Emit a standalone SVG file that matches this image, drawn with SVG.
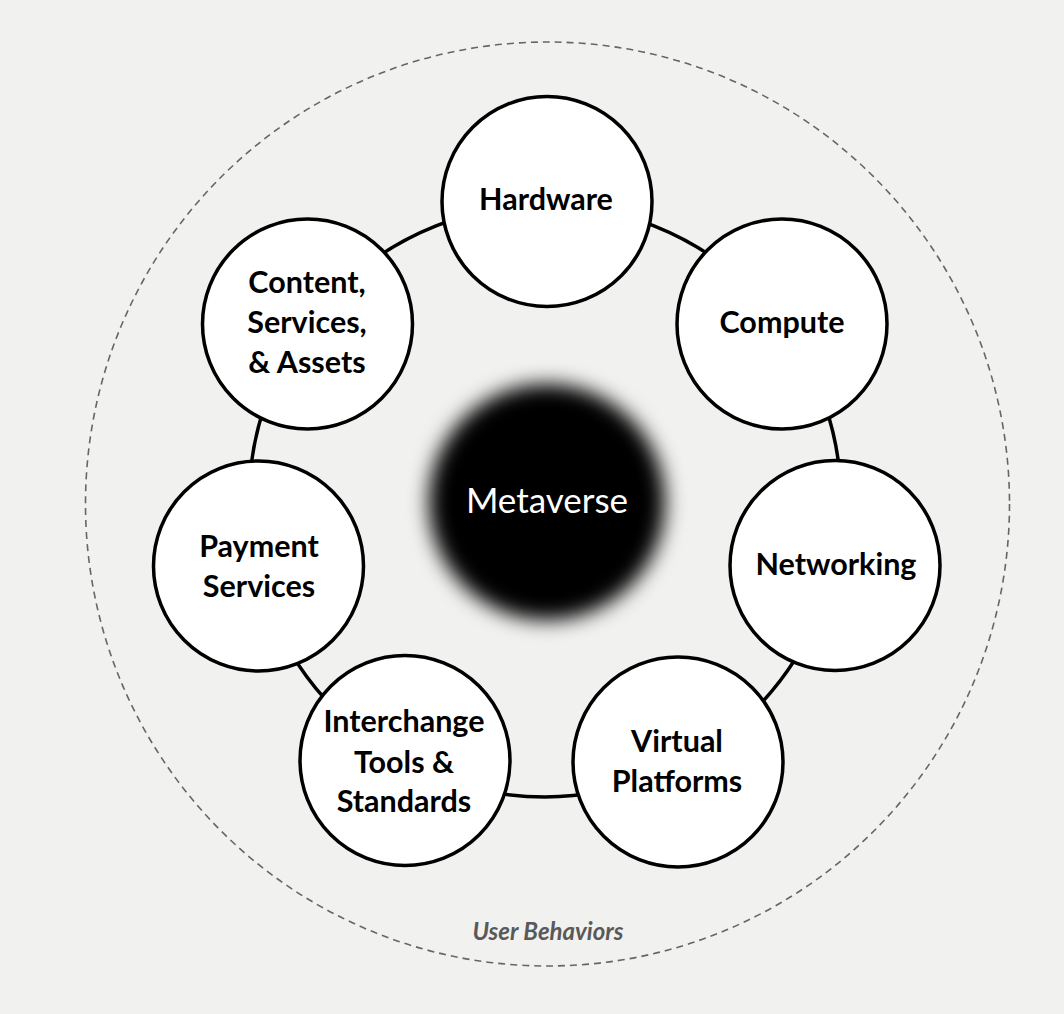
<svg xmlns="http://www.w3.org/2000/svg" width="1064" height="1014" viewBox="0 0 1064 1014">
  <defs>
    <filter id="blur" x="-40%" y="-40%" width="180%" height="180%">
      <feGaussianBlur stdDeviation="10"/>
    </filter>
    <style>
      .node { fill: #ffffff; stroke: #000000; stroke-width: 3.5; }
      .label { font-family: Lato, "Liberation Sans", sans-serif; font-weight: bold; font-size: 30.5px; fill: #000000; text-anchor: middle; }
      .ring { fill: none; stroke: #000000; stroke-width: 3.5; }
      .outer { fill: none; stroke: #666666; stroke-width: 1.6; stroke-dasharray: 7 5; }
    </style>
  </defs>
  <rect x="0" y="0" width="1064" height="1014" fill="#f1f1f0"/>

  <g id="user-behaviors">
    <circle class="outer" cx="547.5" cy="504" r="462"/>
    <text x="548" y="940" font-family="Lato, 'Liberation Sans', sans-serif" font-weight="bold" font-style="italic" font-size="24" fill="#595959" text-anchor="middle">User Behaviors</text>
  </g>

  <g id="connectors">
    <circle class="ring" cx="545" cy="501" r="296"/>
  </g>

  <g id="metaverse">
    <circle cx="547" cy="502" r="118" fill="#000000" filter="url(#blur)"/>
    <text x="547" y="513" font-family="Lato, 'Liberation Sans', sans-serif" font-size="35" fill="#ffffff" text-anchor="middle">Metaverse</text>
  </g>

  <g id="hardware">
    <circle class="node" cx="547" cy="201.5" r="105"/>
    <text class="label" x="546" y="210">Hardware</text>
  </g>
  <g id="compute">
    <circle class="node" cx="782" cy="324" r="105"/>
    <text class="label" x="782" y="333">Compute</text>
  </g>
  <g id="networking">
    <circle class="node" cx="835" cy="565.5" r="105"/>
    <text class="label" x="836" y="575">Networking</text>
  </g>
  <g id="virtual-platforms">
    <circle class="node" cx="678" cy="762" r="105"/>
    <text class="label" x="677" y="752">Virtual</text>
    <text class="label" x="677" y="792">Platforms</text>
  </g>
  <g id="interchange">
    <circle class="node" cx="405" cy="760.5" r="105"/>
    <text class="label" x="404" y="732">Interchange</text>
    <text class="label" x="404" y="772.5">Tools &amp;</text>
    <text class="label" x="404" y="812">Standards</text>
  </g>
  <g id="payment">
    <circle class="node" cx="258.5" cy="566" r="105"/>
    <text class="label" x="259" y="557">Payment</text>
    <text class="label" x="259" y="597">Services</text>
  </g>
  <g id="content">
    <circle class="node" cx="307.5" cy="324" r="105"/>
    <text class="label" x="307" y="293">Content,</text>
    <text class="label" x="307" y="333">Services,</text>
    <text class="label" x="307" y="373">&amp; Assets</text>
  </g>
</svg>
